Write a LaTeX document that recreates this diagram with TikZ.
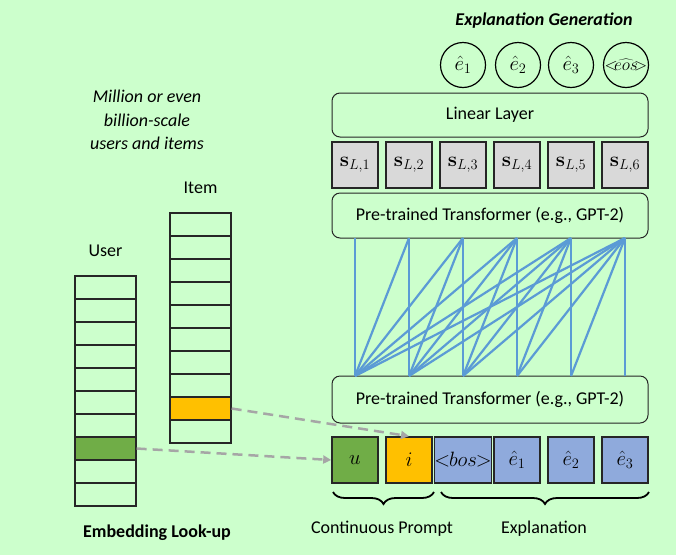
\documentclass[tikz,border=0pt]{standalone}
\usepackage[no-math]{fontspec}
\setmainfont{Carlito}
\usetikzlibrary{arrows.meta,decorations.pathreplacing,positioning}
\definecolor{bgc}{HTML}{CCFFCC}
\definecolor{ugreen}{HTML}{70AD47}
\definecolor{iorange}{HTML}{FFC000}
\definecolor{eblue}{HTML}{8FAADC}
\definecolor{sgray}{HTML}{D9D9D9}
\definecolor{lblue}{HTML}{5B9BD5}
\definecolor{dgray}{HTML}{A6A6A6}
\definecolor{edge}{HTML}{262626}
\newcommand{\mth}[1]{{\fontsize{20.74}{24}\selectfont$#1$}}
\tikzset{
  cell/.style={draw=edge, line width=1.3pt, minimum width=61pt, minimum height=23pt, inner sep=0pt, fill=bgc},
  tok/.style={draw=edge, line width=1.6pt, minimum width=46pt, minimum height=46pt, inner sep=0pt},
  layer/.style={draw=edge, line width=1pt, rounded corners=8pt, minimum width=316pt, inner sep=0pt, fill=bgc},
  outc/.style={draw=black, line width=1.2pt, circle, minimum size=45pt, inner sep=0pt},
  attn/.style={draw=lblue, line width=2.2pt},
  look/.style={draw=dgray, line width=2.5pt, dash pattern=on 10pt off 6pt, -{Triangle[length=8pt,width=8pt]}},
  brc/.style={decorate, decoration={brace, mirror, amplitude=12pt}, line width=1.8pt, draw=black},
  lbl/.style={font=\fontsize{18}{23}\selectfont, inner sep=0pt}
}
\begin{document}
\begin{tikzpicture}[x=1pt,y=-1pt, every node/.style={font=\fontsize{18}{23}\selectfont}]
\fill[bgc] (0,0) rectangle (676,555);
\useasboundingbox (0,0) rectangle (676,555);

% text on the left
\node[lbl, align=center, font=\fontsize{18}{23.5}\selectfont\itshape] (million) at (147,120) {Million or even\\billion-scale\\users and items};
\node[lbl] (userlbl) at (105.5,251) {User};
\node[lbl] (itemlbl) at (200.5,188) {Item};
\node[lbl, font=\fontsize{18}{23}\selectfont\bfseries] (embed) at (157,533) {Embedding Look-up};

% user table
\foreach \k in {1,...,10} {
  \node[cell] (u\k) at (105.5,{276+23*(\k-0.5)}) {};
}
\node[cell, fill=ugreen] (u8) at (105.5,{276+23*7.5}) {};
% item table
\foreach \k in {1,...,10} {
  \node[cell] (i\k) at (200.5,{213+23*(\k-0.5)}) {};
}
\node[cell, fill=iorange] (i9) at (200.5,{213+23*8.5}) {};

% input tokens
\node[tok, fill=ugreen] (tu) at (355,460) {\mth{u}};
\node[tok, fill=iorange] (ti) at (409,460) {\mth{i}};
\node[tok, fill=eblue] (tb) at (463,460) {\mth{<\!\!bos\!\!>}};
\node[tok, fill=eblue] (te1) at (517,460) {\mth{\hat{e}_1}};
\node[tok, fill=eblue] (te2) at (571,460) {\mth{\hat{e}_2}};
\node[tok, fill=eblue] (te3) at (625,460) {\mth{\hat{e}_3}};

% layers
\node[layer, minimum height=47pt] (trb) at (490,399.5) {Pre-trained Transformer (e.g., GPT-2)};
\node[layer, minimum height=45pt] (trt) at (490,215.5) {Pre-trained Transformer (e.g., GPT-2)};
\node[layer, minimum height=44pt] (lin) at (490,115) {Linear Layer};

% hidden states
\foreach \k/\x in {1/355,2/409,3/463,4/517,5/571,6/625} {
  \node[tok, fill=sgray] (s\k) at (\x,165) {\mth{\mathbf{s}_{L,\k}}};
  \coordinate (b\k) at (\x,376);
  \coordinate (t\k) at (\x,238);
}

% causal attention lines
\foreach \k in {1,...,6} {
  \foreach \j in {1,...,\k} {
    \draw[attn] (b\j) -- (t\k);
  }
}

% outputs
\node[outc] (o1) at (463,65) {\mth{\hat{e}_1}};
\node[outc] (o2) at (518,65) {\mth{\hat{e}_2}};
\node[outc] (o3) at (571,65) {\mth{\hat{e}_3}};
\node[outc] (o4) at (626,65) {{\fontsize{17.28}{20}\selectfont$<\!\!\!\widehat{eos}\!\!\!>$}};
\node[lbl, font=\fontsize{18}{23}\selectfont\bfseries\itshape] (gen) at (544,21) {Explanation Generation};

% lookup arrows
\draw[look] (u8.east) -- (tu.west);
\draw[look] (i9.east) -- (ti.north);

% braces
\coordinate (bra) at (333,492);
\coordinate (brb) at (434,492);
\coordinate (brc) at (441,492);
\coordinate (brd) at (649,492);
\draw[brc] (bra) -- (brb);
\draw[brc] (brc) -- (brd);
\node[lbl] (cp) at (382,529) {Continuous Prompt};
\node[lbl] (ex) at (544,529) {Explanation};
\end{tikzpicture}
\end{document}
